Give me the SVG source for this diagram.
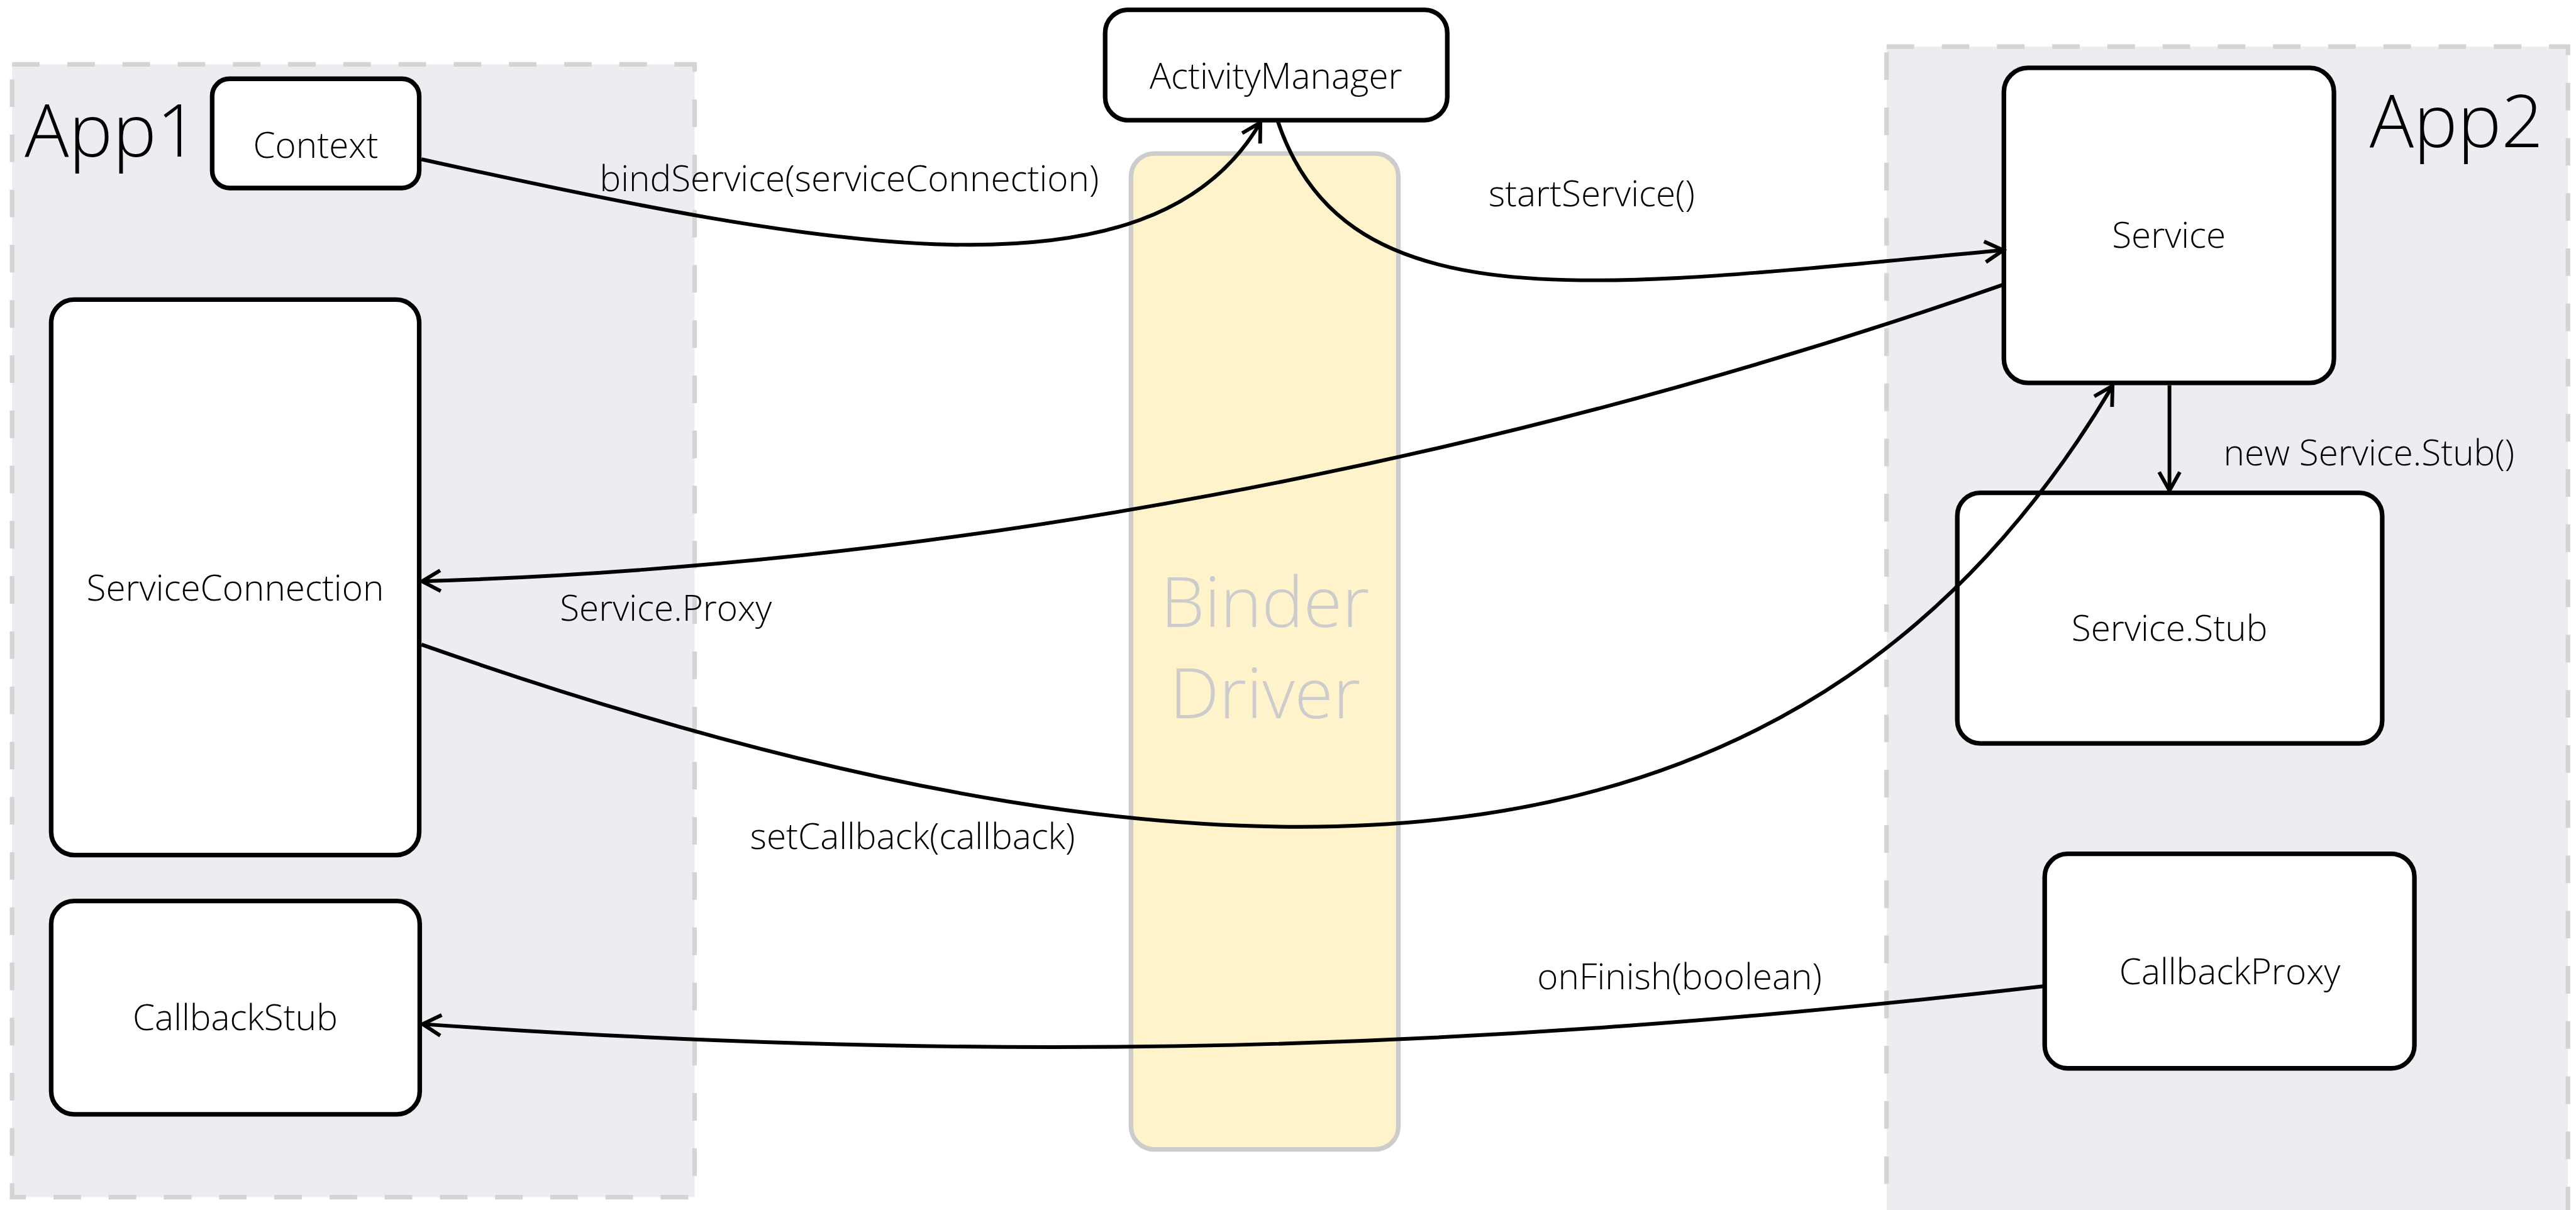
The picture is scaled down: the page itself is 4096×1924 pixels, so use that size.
<svg xmlns="http://www.w3.org/2000/svg" width="4096" height="1924" viewBox="0 0 4096 1924">
  <defs>
    <style>
      .app { fill: #ecedf0; stroke: #d4d4d4; stroke-width: 8; stroke-dasharray: 48 48; }
      .app-title { font-family: "Open Sans", "Liberation Sans", sans-serif; font-weight: 300; font-size: 128px; fill: #000; }
      .node rect { fill: #fff; stroke: #000; stroke-width: 8; }
      .node text { font-family: "Open Sans", "Liberation Sans", sans-serif; font-weight: 300; font-size: 62px; fill: #000; text-anchor: middle; }
      .binder rect { fill: #fff3cc; stroke: #cccccc; stroke-width: 8; }
      .binder text { font-family: "Open Sans", "Liberation Sans", sans-serif; font-weight: 300; font-size: 122px; fill: #cccccc; text-anchor: middle; }
      .edge { fill: none; stroke: #000; stroke-width: 6.5; marker-end: url(#arrow); }
      .edge-label { font-family: "Open Sans", "Liberation Sans", sans-serif; font-weight: 300; font-size: 62px; fill: #000; text-anchor: middle; }
    </style>
    <marker id="arrow" markerUnits="userSpaceOnUse" markerWidth="60" markerHeight="60" refX="0" refY="0" orient="auto" overflow="visible">
      <path d="M-32,-18 L0,0 L-32,18" fill="none" stroke="#000" stroke-width="6.5"/>
    </marker>
  </defs>

  <rect x="0" y="0" width="4096" height="1924" fill="#fff"/>

  <g transform="scale(0.9142857)">
    <!-- process containers -->
    <g id="app1">
      <rect class="app" x="21" y="112" width="1187" height="1970"/>
      <text class="app-title" x="43" y="272">App1</text>
    </g>
    <g id="app2">
      <rect class="app" x="3281" y="81" width="1185" height="2060"/>
      <text class="app-title" x="4121" y="256">App2</text>
    </g>

    <!-- kernel driver -->
    <g id="binder-driver" class="binder">
      <rect x="1967" y="267" width="465" height="1732" rx="40"/>
      <text x="2200" y="1090">Binder</text>
      <text x="2200" y="1249">Driver</text>
    </g>

    <!-- components -->
    <g id="context" class="node">
      <rect x="369" y="137" width="360" height="190" rx="30"/>
      <text x="549" y="275">Context</text>
    </g>
    <g id="activity-manager" class="node">
      <rect x="1922" y="17" width="595" height="192" rx="40"/>
      <text x="2219" y="154">ActivityManager</text>
    </g>
    <g id="service-connection" class="node">
      <rect x="89" y="521" width="640" height="966" rx="40"/>
      <text x="409" y="1044">ServiceConnection</text>
    </g>
    <g id="callback-stub" class="node">
      <rect x="89" y="1567" width="641" height="371" rx="40"/>
      <text x="409" y="1792">CallbackStub</text>
    </g>
    <g id="service" class="node">
      <rect x="3485" y="118" width="574" height="548" rx="42"/>
      <text x="3772" y="431">Service</text>
    </g>
    <g id="service-stub" class="node">
      <rect x="3404" y="857" width="739" height="436" rx="40"/>
      <text x="3773" y="1114">Service.Stub</text>
    </g>
    <g id="callback-proxy" class="node">
      <rect x="3556" y="1485" width="643" height="373" rx="40"/>
      <text x="3878" y="1712">CallbackProxy</text>
    </g>

    <!-- calls between components -->
    <g id="connectors">
      <path class="edge" d="M733,277 C1433,431 2002,540 2192,213"/>
      <path class="edge" d="M2222,210 C2342,570 2780,500 3484,435"/>
      <path class="edge" d="M3484,495 C2584,810 1633,984 734,1011"/>
      <path class="edge" d="M733,1121 C2237,1649 3164,1530 3674,671"/>
      <path class="edge" d="M3556,1715 C2556,1830 1734,1851 735,1781"/>
      <path class="edge" d="M3773,670 L3773,853"/>
      <text class="edge-label" x="1477" y="333">bindService(serviceConnection)</text>
      <text class="edge-label" x="2768" y="359">startService()</text>
      <text class="edge-label" x="1158" y="1079">Service.Proxy</text>
      <text class="edge-label" x="1587" y="1477">setCallback(callback)</text>
      <text class="edge-label" x="2921" y="1720">onFinish(boolean)</text>
      <text class="edge-label" x="4120" y="809">new Service.Stub()</text>
    </g>
  </g>
</svg>
